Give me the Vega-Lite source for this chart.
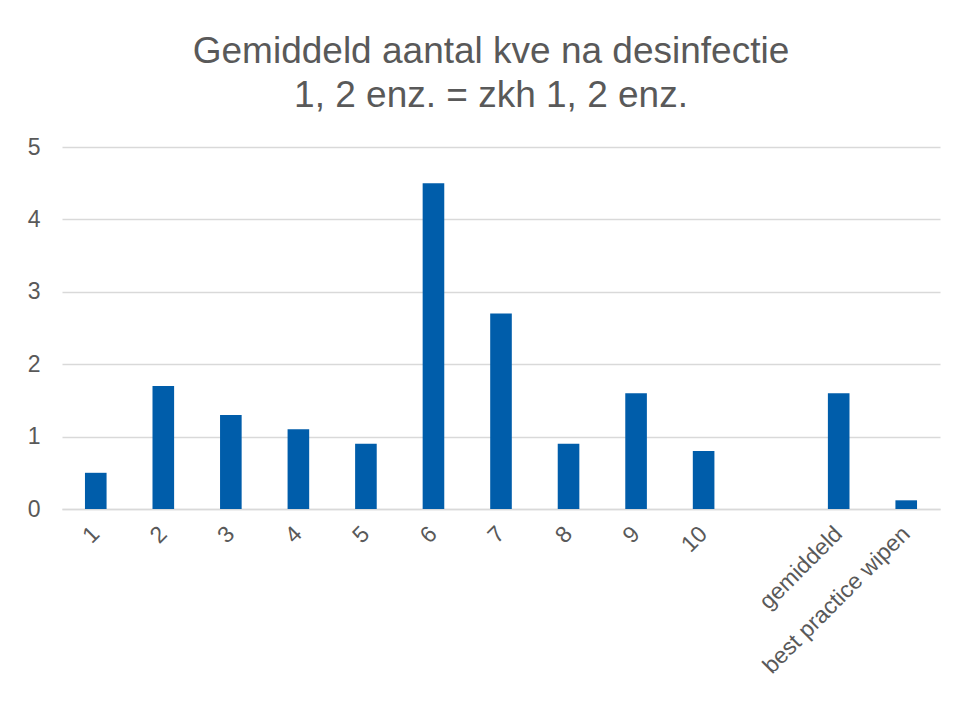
{
  "$schema": "https://vega.github.io/schema/vega-lite/v6.json",
  "width": 878,
  "height": 362,
  "autosize": "none",
  "padding": {"left": 62, "top": 147, "right": 18, "bottom": 192},
  "background": "white",
  "title": {
    "text": ["Gemiddeld aantal kve na desinfectie", "1, 2 enz. = zkh 1, 2 enz."],
    "font": "Liberation Sans",
    "fontSize": 37,
    "fontWeight": "normal",
    "color": "#595959",
    "lineHeight": 44,
    "anchor": "middle",
    "dx": -10,
    "offset": 21
  },
  "data": {
    "values": [
      {"categorie": "1", "kve": 0.5},
      {"categorie": "2", "kve": 1.7},
      {"categorie": "3", "kve": 1.3},
      {"categorie": "4", "kve": 1.1},
      {"categorie": "5", "kve": 0.9},
      {"categorie": "6", "kve": 4.5},
      {"categorie": "7", "kve": 2.7},
      {"categorie": "8", "kve": 0.9},
      {"categorie": "9", "kve": 1.6},
      {"categorie": "10", "kve": 0.8},
      {"categorie": "gemiddeld", "kve": 1.6},
      {"categorie": "best practice wipen", "kve": 0.12}
    ]
  },
  "mark": {"type": "bar", "color": "#005DAA"},
  "encoding": {
    "x": {
      "field": "categorie",
      "type": "nominal",
      "sort": null,
      "scale": {
        "domain": ["1", "2", "3", "4", "5", "6", "7", "8", "9", "10", " ", "gemiddeld", "best practice wipen"],
        "paddingInner": 0.68,
        "paddingOuter": 0.34
      },
      "axis": {
        "title": null,
        "labelAngle": -45,
        "labelAlign": "right",
        "labelBaseline": "middle",
        "labelFont": "Liberation Sans",
        "labelFontSize": 23,
        "labelColor": "#595959",
        "labelPadding": 21,
        "labelLimit": 500,
        "ticks": false,
        "domain": true,
        "domainColor": "#d9d9d9",
        "domainWidth": 1.5,
        "grid": false
      }
    },
    "y": {
      "field": "kve",
      "type": "quantitative",
      "scale": {"domain": [0, 5], "nice": false},
      "axis": {
        "title": null,
        "values": [0, 1, 2, 3, 4, 5],
        "format": "d",
        "labelFont": "Liberation Sans",
        "labelFontSize": 23,
        "labelColor": "#595959",
        "labelPadding": 22,
        "ticks": false,
        "domain": false,
        "grid": true,
        "gridColor": "#d9d9d9",
        "gridWidth": 1.5
      }
    }
  },
  "config": {
    "view": {"stroke": null}
  }
}
